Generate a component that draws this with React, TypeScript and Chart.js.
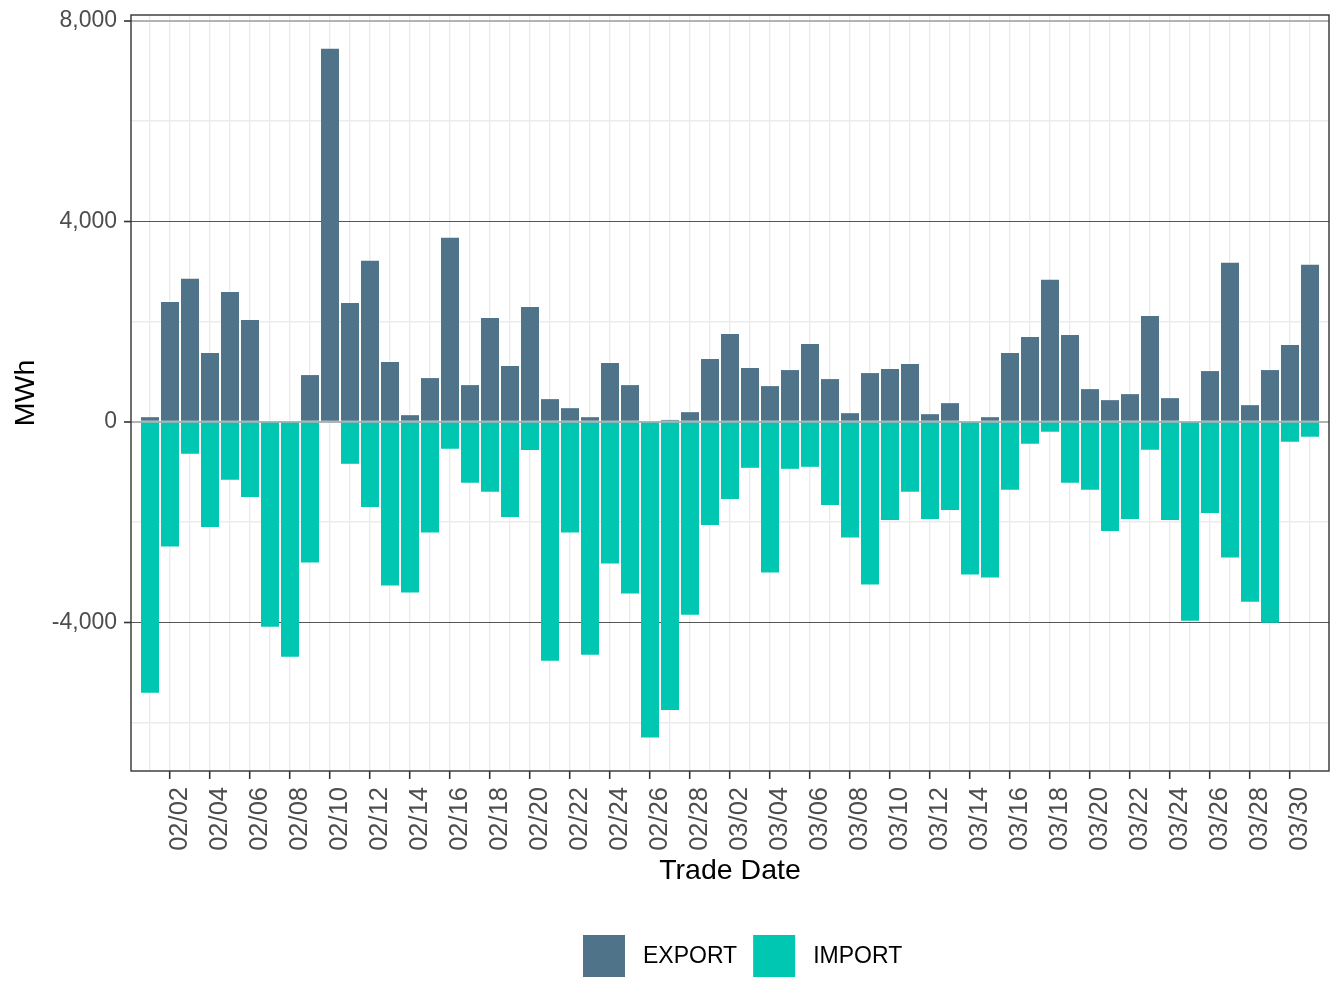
import { useEffect, useRef } from "react";
import { Chart, registerables } from "chart.js";

Chart.register(...registerables);

// Trade dates, one bar pair per day
const tradeDates = [
  "02/01", "02/02", "02/03", "02/04", "02/05", "02/06", "02/07", "02/08", "02/09", "02/10",
  "02/11", "02/12", "02/13", "02/14", "02/15", "02/16", "02/17", "02/18", "02/19", "02/20",
  "02/21", "02/22", "02/23", "02/24", "02/25", "02/26", "02/27", "02/28",
  "03/01", "03/02", "03/03", "03/04", "03/05", "03/06", "03/07", "03/08", "03/09", "03/10",
  "03/11", "03/12", "03/13", "03/14", "03/15", "03/16", "03/17", "03/18", "03/19", "03/20",
  "03/21", "03/22", "03/23", "03/24", "03/25", "03/26", "03/27", "03/28", "03/29", "03/30",
  "03/31",
];

// Daily exported energy (MWh)
const exportMWh = [
  90, 2390, 2850, 1370, 2590, 2030, 0, 0, 930, 7440,
  2370, 3210, 1190, 130, 870, 3670, 730, 2070, 1110, 2290,
  450, 270, 90, 1170, 730, 0, 35, 190,
  1250, 1750, 1070, 710, 1030, 1550, 850, 170, 970, 1050,
  1150, 150, 370, 0, 90, 1370, 1690, 2830, 1730, 650,
  430, 550, 2110, 470, 20, 1010, 3170, 330, 1030, 1530,
  3130,
];

// Daily imported energy (MWh, drawn below zero)
const importMWh = [
  -5410, -2490, -640, -2100, -1160, -1500, -4090, -4690, -2810, -20,
  -840, -1700, -3270, -3410, -2210, -540, -1220, -1400, -1900, -565,
  -4770, -2210, -4650, -2830, -3430, -6300, -5750, -3850,
  -2060, -1540, -920, -3010, -940, -900, -1660, -2310, -3250, -1960,
  -1400, -1940, -1760, -3050, -3110, -1360, -440, -200, -1220, -1360,
  -2180, -1940, -560, -1960, -3970, -1820, -2710, -3590, -4010, -400,
  -300,
];

const seriesNames = ["EXPORT", "IMPORT"];
const yGridValues = [-6000, -4000, -2000, 0, 2000, 4000, 6000, 8000];
const yLabelValues = [-4000, 0, 4000, 8000];

const FONT = "'Liberation Sans', Arial, Helvetica, sans-serif";
const EXPORT_COLOR = "#4f7389";
const IMPORT_COLOR = "#00c7b1";
const LIGHT_GRID = "#ebebeb";

// Filled square legend keys under the panel
const legendPlugin = {
  id: "bottomLegend",
  afterDraw(chart: any) {
    const { ctx } = chart;
    const top = 935;
    const key = 42;
    let x = 583;
    ctx.save();
    ctx.font = `23px ${FONT}`;
    ctx.textBaseline = "middle";
    ctx.textAlign = "left";
    chart.data.datasets.forEach((ds: any) => {
      ctx.fillStyle = ds.backgroundColor;
      ctx.fillRect(x, top, key, key);
      x += key + 18;
      ctx.fillStyle = "#000000";
      ctx.fillText(ds.label, x, top + key / 2 + 1);
      x += ctx.measureText(ds.label).width + 16;
    });
    ctx.restore();
  },
};

// Dark frame round the plotting panel
const panelBorder = {
  id: "panelBorder",
  afterDatasetsDraw(chart: any) {
    const { ctx, chartArea: a } = chart;
    ctx.save();
    ctx.strokeStyle = "#333333";
    ctx.lineWidth = 1.4;
    ctx.strokeRect(a.left, a.top, a.right - a.left, a.bottom - a.top);
    ctx.restore();
  },
};

export default function App() {
  const canvasRef = useRef<HTMLCanvasElement | null>(null);

  useEffect(() => {
    if (!canvasRef.current) return;
    const chart = new Chart(canvasRef.current, {
      type: "bar",
      data: {
        datasets: [
          {
            label: seriesNames[0],
            data: exportMWh.map((v, i) => ({ x: i, y: v })),
            backgroundColor: EXPORT_COLOR,
            borderWidth: 0,
            barPercentage: 0.9,
            categoryPercentage: 1,
            stack: "flow",
          },
          {
            label: seriesNames[1],
            data: importMWh.map((v, i) => ({ x: i, y: v })),
            backgroundColor: IMPORT_COLOR,
            borderWidth: 0,
            barPercentage: 0.9,
            categoryPercentage: 1,
            stack: "flow",
          },
        ],
      },
      options: {
        animation: false,
        responsive: true,
        maintainAspectRatio: false,
        layout: { padding: { left: 0, top: 15, right: 15, bottom: 107 } },
        plugins: {
          legend: { display: false },
          tooltip: { enabled: false },
        },
        scales: {
          x: {
            type: "linear",
            stacked: true,
            offset: false,
            min: -0.95,
            max: tradeDates.length - 1 + 0.95,
            afterBuildTicks: (scale: any) => {
              scale.ticks = tradeDates.map((_, i) => ({ value: i }));
            },
            afterFit: (scale: any) => {
              scale.height = 130;
              scale.paddingLeft = 0;
              scale.paddingRight = 0;
            },
            border: { display: false },
            grid: {
              offset: false,
              color: LIGHT_GRID,
              lineWidth: 1.4,
              drawTicks: true,
              tickLength: 8,
              tickWidth: 1.6,
              tickColor: (c: any) =>
                c.tick && c.tick.value % 2 === 1 ? "#333333" : "rgba(0,0,0,0)",
            },
            ticks: {
              autoSkip: false,
              minRotation: 90,
              maxRotation: 90,
              padding: 8,
              labelOffset: 10,
              color: "#4d4d4d",
              font: { family: FONT, size: 25.5 },
              callback: (value: any) =>
                Number.isInteger(value) && value % 2 === 1 ? tradeDates[value] : "",
            },
            title: {
              display: true,
              text: "Trade Date",
              color: "#000000",
              font: { family: FONT, size: 28.5 },
              padding: { top: 0, bottom: 13 },
            },
          },
          y: {
            type: "linear",
            stacked: true,
            min: -6969,
            max: 8114,
            afterBuildTicks: (scale: any) => {
              scale.ticks = yGridValues.map((v) => ({ value: v }));
            },
            afterFit: (scale: any) => {
              scale.width = 131;
              scale.paddingTop = 0;
              scale.paddingBottom = 0;
            },
            border: { display: false },
            grid: {
              color: (c: any) => {
                const v = c.tick ? c.tick.value : null;
                if (v === 0 || v === 8000) return "#b3b3b3";
                if (v === 4000 || v === -4000) return "#555555";
                return LIGHT_GRID;
              },
              lineWidth: (c: any) => {
                const v = c.tick ? c.tick.value : null;
                if (v === 0 || v === 8000) return 2;
                if (v === 4000 || v === -4000) return 1;
                return 1.4;
              },
              drawTicks: true,
              tickLength: 7,
              tickWidth: 1.6,
              tickColor: (c: any) =>
                c.tick && yLabelValues.includes(c.tick.value) ? "#333333" : "rgba(0,0,0,0)",
            },
            ticks: {
              padding: 7,
              color: "#4d4d4d",
              font: { family: FONT, size: 23 },
              callback: (value: any) =>
                yLabelValues.includes(value) ? Number(value).toLocaleString("en-US") : "",
            },
            title: {
              display: true,
              text: "MWh",
              color: "#000000",
              font: { family: FONT, size: 28.5 },
              padding: { top: 9, bottom: 0 },
            },
          },
        },
      },
      plugins: [panelBorder, legendPlugin],
    } as any);
    return () => chart.destroy();
  }, []);

  return (
    <div
      style={{
        position: "absolute",
        left: 0,
        top: 0,
        width: 1344,
        height: 1008,
        background: "#ffffff",
      }}
    >
      <canvas ref={canvasRef} />
    </div>
  );
}
